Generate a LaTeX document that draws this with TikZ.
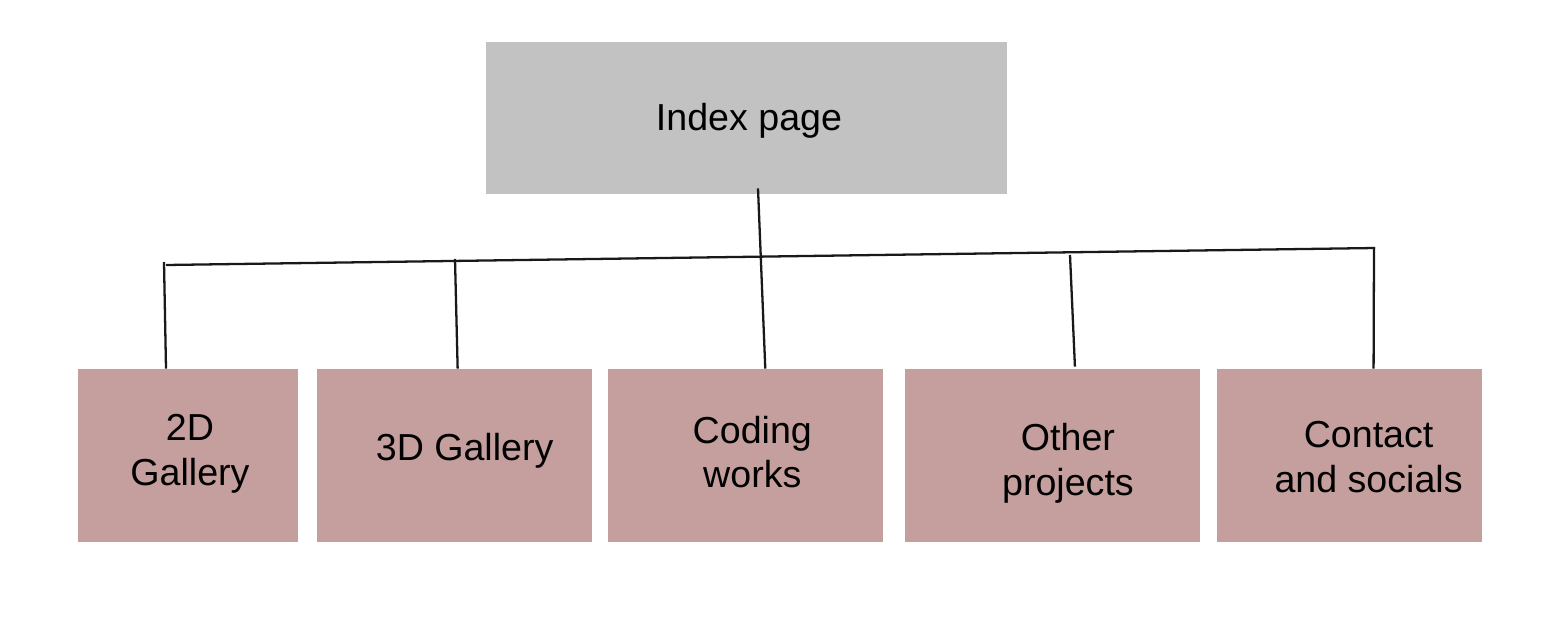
\documentclass[tikz,border=0pt]{standalone}
\usepackage{fontspec}
\setmainfont{Liberation Sans}
\usetikzlibrary{positioning}
\definecolor{indexgrey}{HTML}{C2C2C2}
\definecolor{pagepink}{HTML}{C59E9E}

\begin{document}
\begin{tikzpicture}[x=0.02cm, y=-0.02cm, node distance=0.38cm,
	page/.style={rectangle, fill=pagepink, minimum height=3.46cm, inner sep=0pt},
	lbl/.style={align=center, font=\fontsize{21.4}{25.5}\selectfont, inner sep=0pt},
	link/.style={line width=1.3pt, draw=black!90}]
	\useasboundingbox (0,0) rectangle (1549,639);

	% top page
	\node (index) [rectangle, fill=indexgrey, minimum width=10.42cm, minimum height=3.04cm, inner sep=0pt] at (746.5,118) {};
	\node (tindex) [lbl] at ([xshift=0.05cm, yshift=-0.06cm]index.center) {Index page};

	% sub pages
	\node (g2d) [page, minimum width=4.4cm] at (188,455.5) {};
	\node (g3d) [page, minimum width=5.5cm, right=0.36cm of g2d] {};
	\node (coding) [page, minimum width=5.5cm, right=0.32cm of g3d] {};
	\node (other) [page, minimum width=5.9cm, right=0.42cm of coding] {};
	\node (contact) [page, minimum width=5.3cm, right=0.32cm of other] {};

	\node (tg2d) [lbl] at ([xshift=0.04cm, yshift=0.03cm]g2d.center) {2D\\Gallery};
	\node (tg3d) [lbl] at ([xshift=0.21cm, yshift=0.09cm]g3d.center) {3D Gallery};
	\node (tcoding) [lbl] at ([xshift=0.13cm, yshift=0.07cm]coding.center) {Coding\\works};
	\node (tother) [lbl] at ([xshift=0.31cm, yshift=-0.15cm]other.center) {Other\\projects};
	\node (tcontact) [lbl] at ([xshift=0.39cm, yshift=-0.03cm]contact.center) {Contact\\and socials};

	% tree lines
	\coordinate (busL) at (166,265);
	\coordinate (busR) at (1375,248);
	\draw[link] ([xshift=0.23cm, yshift=0.12cm]index.south) -- ([xshift=0.39cm]coding.north);
	\draw[link] (busL) -- (busR);
	\draw[link] (164,262) -- ([xshift=-0.44cm]g2d.north);
	\draw[link] (455,259) -- ([xshift=0.07cm]g3d.north);
	\draw[link] (1070,255) -- ([xshift=0.45cm, yshift=0.04cm]other.north);
	\draw[link] (1374,247) -- ([xshift=0.49cm]contact.north);
\end{tikzpicture}
\end{document}
